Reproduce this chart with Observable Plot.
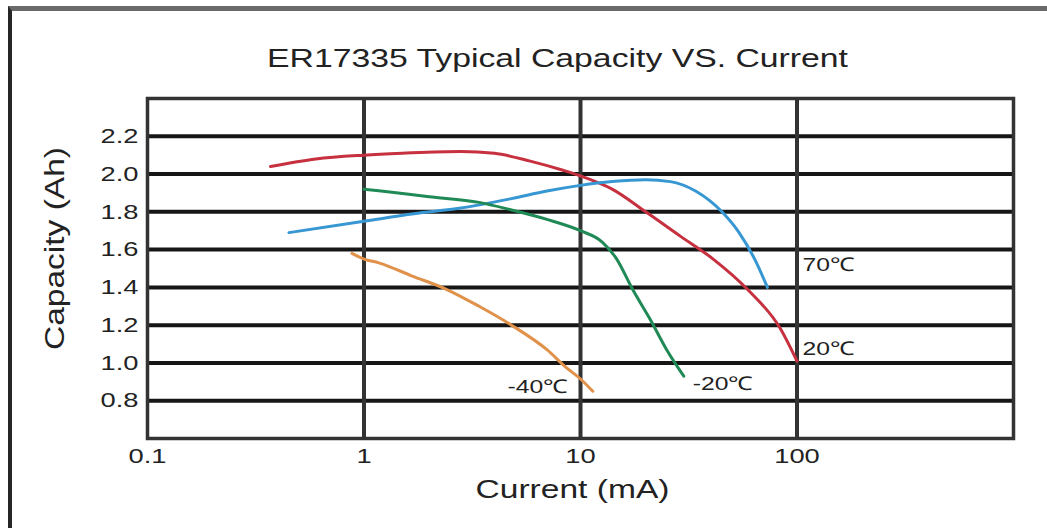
<!DOCTYPE html>
<html>
<head>
<meta charset="utf-8">
<script src="https://cdn.jsdelivr.net/npm/d3@7"></script>
<script src="https://cdn.jsdelivr.net/npm/@observablehq/plot@0.6"></script>
<style>
  html, body { margin: 0; padding: 0; background: #fff; }
  #wrap { position: relative; width: 1047px; height: 528px; overflow: hidden; }
  #border { position: absolute; left: 8px; top: 6px; right: -10px; bottom: -10px;
            border-left: 4px solid #262626; border-top: 5px solid #6a6a6a; pointer-events: none; }
  svg { font-family: "Liberation Sans", Arial, sans-serif; }
</style>
</head>
<body>
<div id="wrap"><div id="border"></div></div>
<script>
// ---- data ----
const titleText = "ER17335 Typical Capacity VS. Current";
const xLabel = "Current (mA)";
const yLabel = "Capacity (Ah)";
const xTicks = [0.1, 1, 10, 100];
const xGrid = [1, 10, 100];
const yTicks = [0.8, 1.0, 1.2, 1.4, 1.6, 1.8, 2.0, 2.2];

const series = ["20℃", "70℃", "-20℃", "-40℃"];
const colors = ["#c6303f", "#3797d3", "#1f8a55", "#e0914a"];

const current20  = [0.37, 0.6, 1, 1.5, 2.8, 4, 5.8, 8.3, 10, 14, 20, 29, 41, 59, 84, 100];
const capacity20 = [2.04, 2.08, 2.1, 2.11, 2.12, 2.11, 2.07, 2.02, 1.99, 1.92, 1.80, 1.67, 1.55, 1.39, 1.18, 1.01];

const current70  = [0.45, 1, 1.7, 2.8, 4.8, 7, 10, 14, 20, 26, 34, 45, 54, 65, 73];
const capacity70 = [1.69, 1.75, 1.79, 1.82, 1.87, 1.91, 1.94, 1.96, 1.97, 1.96, 1.91, 1.80, 1.69, 1.53, 1.40];

const currentM20  = [1, 1.2, 2, 3.4, 4.8, 7, 10, 12.6, 14.7, 17.4, 21, 25, 30];
const capacityM20 = [1.92, 1.91, 1.88, 1.85, 1.81, 1.76, 1.70, 1.64, 1.55, 1.39, 1.23, 1.07, 0.93];

const currentM40  = [0.88, 1, 1.17, 1.67, 2.4, 3.4, 4.8, 7, 8.6, 10, 11.4];
const capacityM40 = [1.58, 1.55, 1.53, 1.46, 1.39, 1.30, 1.20, 1.07, 0.975, 0.915, 0.85];

const labelText = ["70℃", "20℃", "-20℃", "-40℃"];
const labelX = [106, 106, 33, 4.6];
const labelY = [1.52, 1.075, 0.89, 0.875];

// ---- build table ----
const curves = [
  [current20, capacity20],
  [current70, capacity70],
  [currentM20, capacityM20],
  [currentM40, capacityM40]
];
const rows = [];
curves.forEach(([xs, ys], i) => xs.forEach((x, j) => rows.push({series: series[i], current: x, capacity: ys[j]})));
const labels = labelText.map((t, i) => ({text: t, x: labelX[i], y: labelY[i]}));

const chart = Plot.plot({
  width: 1047,
  height: 528,
  marginLeft: 147,
  marginRight: 34,
  marginTop: 98,
  marginBottom: 90,
  style: {fontFamily: "'Liberation Sans', Arial, sans-serif", background: "transparent"},
  x: {type: "log", domain: [0.1, 1000], ticks: xTicks, tickFormat: d => String(d), tickSize: 0, label: null},
  y: {domain: [0.6, 2.4], ticks: yTicks, tickFormat: d3.format(".1f"), tickSize: 0, label: null},
  color: {domain: series, range: colors},
  marks: [
    Plot.ruleY(yTicks, {stroke: "#161616", strokeWidth: 4}),
    Plot.ruleX(xGrid, {stroke: "#333", strokeWidth: 4}),
    Plot.frame({stroke: "#333", strokeWidth: 3.5}),
    Plot.line(rows, {x: "current", y: "capacity", z: "series", stroke: "series", strokeWidth: 3, curve: "monotone-x"}),
    Plot.text(labels, {x: "x", y: "y", text: "text", textAnchor: "start", fontSize: 19, fill: "#222", stroke: "white", strokeWidth: 3, paintOrder: "stroke", className: "stretch"}),
    Plot.axisX({ticks: xTicks, tickFormat: d => String(d), tickSize: 0, tickPadding: 10, fontSize: 21, fill: "#222", label: null, className: "stretch"}),
    Plot.axisY({ticks: yTicks, tickFormat: d3.format(".1f"), tickSize: 0, tickPadding: 9, fontSize: 21, fill: "#222", label: null, className: "stretch"}),
    Plot.text([titleText], {frameAnchor: "top", dy: -50, dx: -23, fontSize: 26, fill: "#222", className: "title-text"}),
    Plot.text([xLabel], {frameAnchor: "bottom", dy: 59, dx: -8, fontSize: 26, fill: "#222", className: "xlabel-text"}),
    Plot.text([yLabel], {frameAnchor: "left", textAnchor: "middle", dx: -92, dy: -20, rotate: -90, fontSize: 27, fill: "#222", className: "ylabel-text"})
  ]
});
document.getElementById("wrap").prepend(chart);

// widen glyphs to match the horizontally stretched reference artwork
function fit(sel, fn) {
  chart.querySelectorAll(sel).forEach(t => {
    const w = t.getComputedTextLength();
    t.setAttribute("textLength", fn(w));
    t.setAttribute("lengthAdjust", "spacingAndGlyphs");
  });
}
fit(".stretch text", w => w * 1.3);
fit(".title-text text", () => 581);
fit(".xlabel-text text", () => 194);
fit(".ylabel-text text", () => 203);
</script>
</body>
</html>
